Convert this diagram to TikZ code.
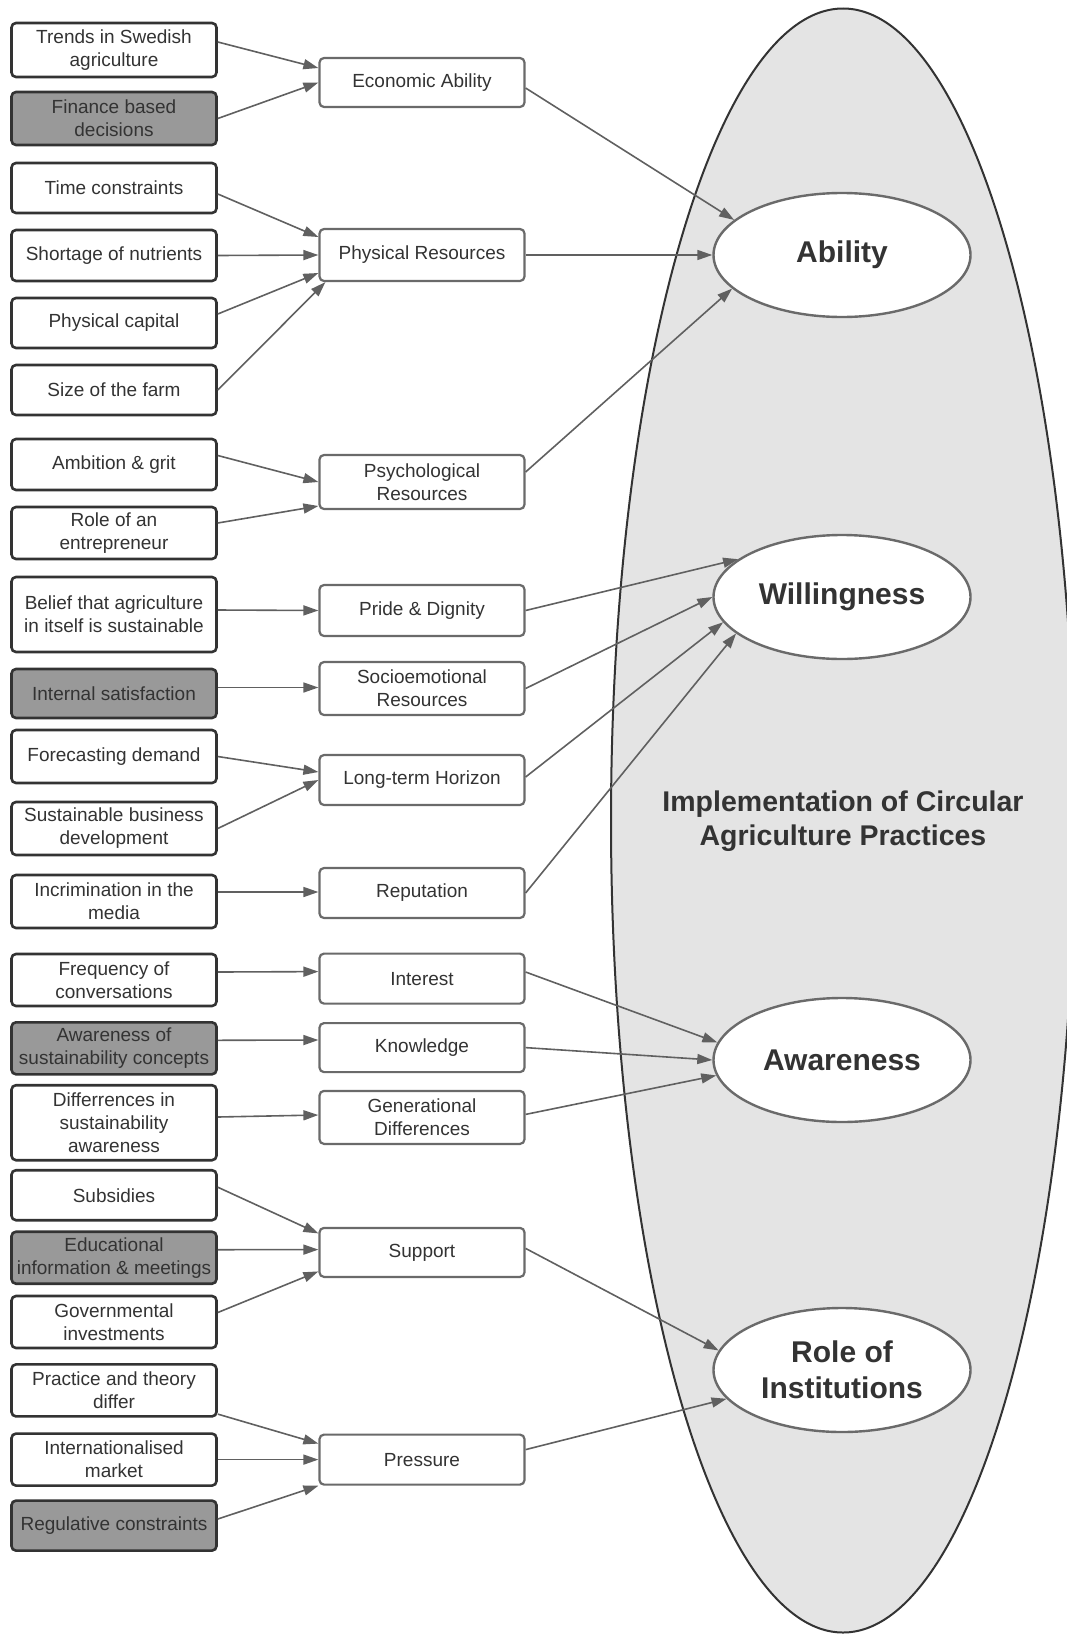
\documentclass[tikz,border=0pt]{standalone}
\usepackage{fontspec}
\setmainfont{Liberation Sans}
\usetikzlibrary{arrows.meta,shapes.geometric}
\definecolor{txt}{HTML}{333333}
\definecolor{lbord}{HTML}{333333}
\definecolor{mbord}{HTML}{6A6A6A}
\definecolor{arr}{HTML}{606060}
\definecolor{gfill}{HTML}{999999}
\definecolor{bigfill}{HTML}{E4E4E4}
\begin{document}
\begin{tikzpicture}[x=1pt,y=-1pt,
  lbox/.style={draw=lbord, line width=2.6pt, rounded corners=4.5pt, fill=white,
    minimum width=205pt, inner sep=0pt, align=center, text=txt,
    font=\fontsize{19}{23}\selectfont},
  gbox/.style={lbox, fill=gfill},
  mbox/.style={lbox, draw=mbord, line width=2.2pt},
  smallell/.style={ellipse, draw=mbord, line width=2.4pt, fill=white,
    minimum width=257pt, minimum height=124pt, inner sep=0pt, align=center,
    text=txt, font=\fontsize{30}{36}\selectfont\bfseries},
  ar/.style={draw=arr, line width=1.6pt, -{Triangle[length=15pt,width=10pt]}}
]
\useasboundingbox (0,0) rectangle (1067,1638);
\clip (0,0) rectangle (1067,1638);

% outer ellipse
\node[ellipse, draw=lbord, line width=2pt, fill=bigfill, inner sep=0pt,
  minimum width=464pt, minimum height=1624pt] (outer) at (843,820.5) {};
\node[text=txt, align=center, font=\fontsize{28.5}{33.5}\selectfont\bfseries] (title)
  at (843,821) {Implementation of Circular\\Agriculture Practices};

% outcome ellipses
\node[smallell] (ability) at (842,255) {Ability};
\node[smallell] (will) at (842,597) {Willingness};
\node[smallell] (aware) at (842,1060) {Awareness};
\node[smallell] (inst) at (842,1370) {Role of\\Institutions};

% left boxes
\node[lbox, minimum height=54pt] (trends) at (114,50) {Trends in Swedish\\agriculture};
\node[gbox, minimum height=53pt] (finance) at (114,118.5) {Finance based\\decisions};
\node[lbox, minimum height=50pt] (time) at (114,188) {Time constraints};
\node[lbox, minimum height=51pt] (short) at (114,255.5) {Shortage of nutrients};
\node[lbox, minimum height=50pt] (pcap) at (114,323) {Physical capital};
\node[lbox, minimum height=50pt] (size) at (114,390) {Size of the farm};
\node[lbox, minimum height=51pt] (ambition) at (114,464.5) {Ambition \& grit};
\node[lbox, minimum height=52pt] (role) at (114,533) {Role of an\\entrepreneur};
\node[lbox, minimum height=75pt] (belief) at (114,614.5) {Belief that agriculture\\in itself is sustainable};
\node[gbox, minimum height=49pt] (internal) at (114,693.5) {Internal satisfaction};
\node[lbox, minimum height=53pt] (forecast) at (114,756.5) {Forecasting demand};
\node[lbox, minimum height=53pt] (susbiz) at (114,828.5) {Sustainable business\\development};
\node[lbox, minimum height=53pt] (incrim) at (114,901.5) {Incrimination in the\\media};
\node[lbox, minimum height=52pt] (freq) at (114,980) {Frequency of\\conversations};
\node[gbox, minimum height=52pt] (awareof) at (114,1048.3) {Awareness of\\sustainability concepts};
\node[lbox, minimum height=75pt] (diffs) at (114,1122.7) {Differrences in\\sustainability\\awareness};
\node[lbox, minimum height=50pt] (subsid) at (114,1195.2) {Subsidies};
\node[gbox, minimum height=52pt] (educ) at (114,1257.7) {Educational\\information \& meetings};
\node[lbox, minimum height=52pt] (gov) at (114,1322) {Governmental\\investments};
\node[lbox, minimum height=52pt] (practice) at (114,1390.4) {Practice and theory\\differ};
\node[lbox, minimum height=52pt] (intl) at (114,1459.6) {Internationalised\\market};
\node[gbox, minimum height=50pt] (regul) at (114,1525.6) {Regulative constraints};

% middle boxes
\node[mbox, minimum height=49pt] (econ) at (422,82.5) {Economic Ability};
\node[mbox, minimum height=52pt] (phys) at (422,255) {Physical Resources};
\node[mbox, minimum height=54pt] (psych) at (422,482) {Psychological\\Resources};
\node[mbox, minimum height=51pt] (pride) at (422,610.5) {Pride \& Dignity};
\node[mbox, minimum height=53pt] (socio) at (422,688.5) {Socioemotional\\Resources};
\node[mbox, minimum height=50pt] (longterm) at (422,780) {Long-term Horizon};
\node[mbox, minimum height=50pt] (reput) at (422,893) {Reputation};
\node[mbox, minimum height=50pt] (interest) at (422,978.6) {Interest};
\node[mbox, minimum height=49pt] (knowl) at (422,1047.6) {Knowledge};
\node[mbox, minimum height=53pt] (gener) at (422,1117.4) {Generational\\Differences};
\node[mbox, minimum height=49pt] (support) at (422,1252.4) {Support};
\node[mbox, minimum height=50pt] (pressure) at (422,1459.6) {Pressure};

% left -> middle
\draw[ar] ([yshift=8pt]trends.east) -- ([yshift=14.5pt]econ.west);
\draw[ar] (finance.east) -- (econ.west);
\draw[ar] ([yshift=-6pt]time.east) -- ([yshift=18pt]phys.west);
\draw[ar] (short.east) -- (phys.west);
\draw[ar] ([yshift=9pt]pcap.east) -- ([yshift=-18pt]phys.west);
\draw[ar] (size.east) -- ([xshift=7pt]phys.south west);
\draw[ar] ([yshift=9pt]ambition.east) -- (psych.west);
\draw[ar] ([yshift=10pt]role.east) -- ([yshift=-24pt]psych.west);
\draw[ar] ([yshift=4.5pt]belief.east) -- (pride.west);
\draw[ar] ([yshift=6pt]internal.east) -- ([yshift=1pt]socio.west);
\draw[ar] (forecast.east) -- ([yshift=8pt]longterm.west);
\draw[ar] (susbiz.east) -- (longterm.west);
\draw[ar] ([yshift=9.5pt]incrim.east) -- ([yshift=1pt]reput.west);
\draw[ar] ([yshift=8pt]freq.east) -- ([yshift=7pt]interest.west);
\draw[ar] ([yshift=8pt]awareof.east) -- ([yshift=7.6pt]knowl.west);
\draw[ar] ([yshift=5.7pt]diffs.east) -- ([yshift=2.4pt]gener.west);
\draw[ar] ([yshift=8pt]subsid.east) -- ([yshift=19pt]support.west);
\draw[ar] ([yshift=8pt]educ.east) -- ([yshift=2.8pt]support.west);
\draw[ar] ([yshift=9.5pt]gov.east) -- ([yshift=-19pt]support.west);
\draw[ar] ([yshift=-23.7pt]practice.east) -- ([yshift=16pt]pressure.west);
\draw[ar] (intl.east) -- (pressure.west);
\draw[ar] ([yshift=6.6pt]regul.east) -- (pressure.south west);

% middle -> outcomes
\draw[ar] ([yshift=-5.5pt]econ.east) -- (ability.162);
\draw[ar] (phys.east) -- (ability.180);
\draw[ar] ([yshift=10pt]psych.east) -- (ability.197);
\draw[ar] (pride.east) -- (will.160);
\draw[ar] (socio.east) -- (will.180);
\draw[ar] ([yshift=3pt]longterm.east) -- (will.192);
\draw[ar] (reput.east) -- (will.199);
\draw[ar] ([yshift=6.6pt]interest.east) -- (aware.172);
\draw[ar] (knowl.east) -- (aware.180);
\draw[ar] ([yshift=3pt]gener.east) -- (aware.187);
\draw[ar] ([yshift=4pt]support.east) -- (inst.171);
\draw[ar] ([yshift=10pt]pressure.east) -- (inst.194);
\end{tikzpicture}
\end{document}
